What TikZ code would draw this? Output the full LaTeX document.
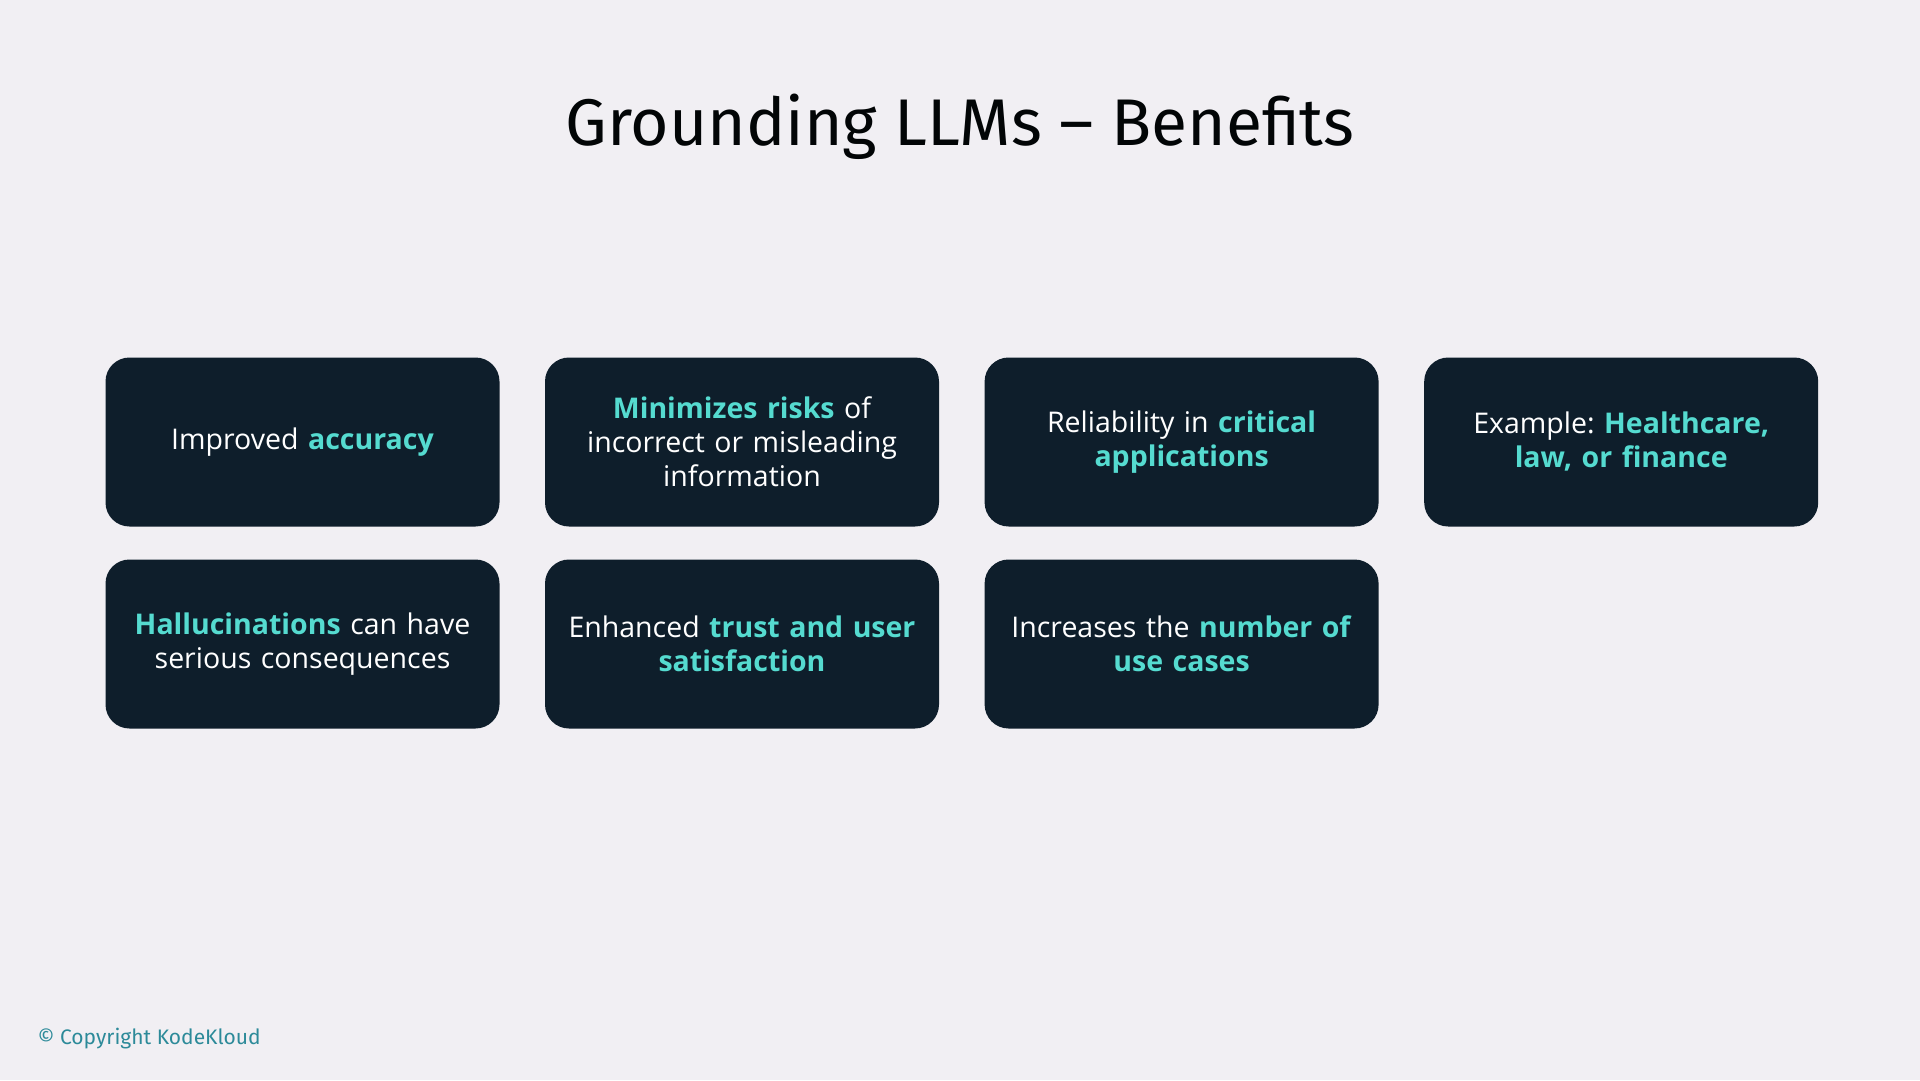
\documentclass[tikz,border=0pt]{standalone}
\usepackage{fontspec}
\setmainfont{Open Sans}
\newfontfamily\titlefont{Fira Sans}
\usepackage{tikz}
\usetikzlibrary{arrows.meta,positioning}
\definecolor{slidebg}{HTML}{F1EFF3}
\definecolor{cardnavy}{HTML}{0E1E2B}
\definecolor{hlcyan}{HTML}{55DBD0}
\definecolor{copyteal}{HTML}{2C8A99}
\frenchspacing
\tikzset{
    >=Stealth,
    slide/.style={
        card/.append style={align=center,fill=cardnavy,rounded corners=24pt,minimum width=394pt,minimum height=169pt,text width=370pt,text=white,font=\fontsize{28.5}{34}\selectfont},
        heading/.append style={anchor=base,text=black!85!cardnavy,font=\titlefont\fontsize{66}{76}\selectfont},
        footer/.append style={anchor=base west,text=copyteal,font=\titlefont\fontsize{21}{24}\selectfont}
    }
}
\newcommand{\hl}[1]{\textcolor{hlcyan}{\textbf{#1}}}

\begin{document}
\begin{tikzpicture}[slide,x=1pt,y=-1pt]
    \fill[slidebg] (0,0) rectangle (1920,1080);
    \useasboundingbox (0,0) rectangle (1920,1080);

    \node[heading] (title) at (960, 145) {Grounding LLMs – Benefits};

    \node[card] (acc) at (302.5, 442) {Improved \hl{accuracy}};
    \node[card] (risk) at (742, 442) {\hl{Minimizes risks} of\\incorrect or misleading\\information};
    \node[card] (rel) at (1181.6, 442) {Reliability in \hl{critical}\\\hl{applications}};
    \node[card] (ex) at (1621.2, 442) {Example: \hl{Healthcare,}\\\hl{law, or finance}};

    \node[card] (hall) at (302.5, 644) {\hl{Hallucinations} can have\\serious consequences};
    \node[card] (trust) at (742, 644) {Enhanced \hl{trust and user}\\\hl{satisfaction}};
    \node[card] (use) at (1181.6, 644) {Increases the \hl{number of}\\\hl{use cases}};

    \node[footer] (copy) at (34, 1044) {© Copyright KodeKloud};
\end{tikzpicture}
\end{document}
